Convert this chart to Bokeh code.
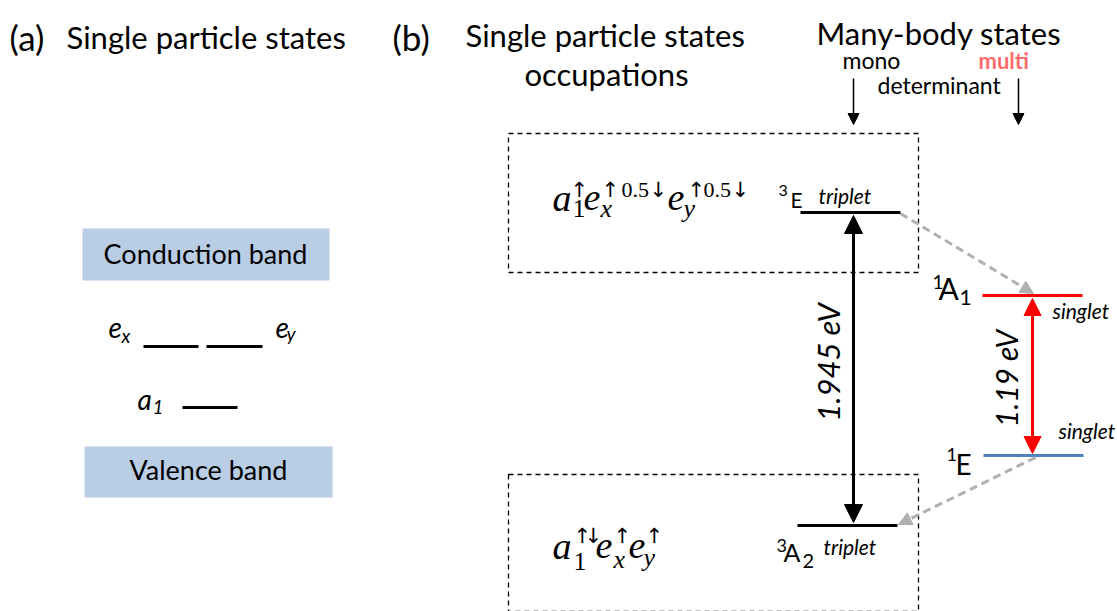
import math
from bokeh.plotting import figure
from bokeh.models import Range1d, Arrow, NormalHead
from bokeh.core.properties import value
from bokeh.embed import file_html
from bokeh.resources import INLINE

# ---------------- data ----------------
panel_titles = ["(a)", "(b)"]
section_titles = ["Single particle states", "Single particle states", "occupations", "Many-body states"]
band_names = ["Conduction band", "Valence band"]
orbital_letters = ["e", "e", "a"]
orbital_subs = ["x", "y", "1"]
state_mult = ["3", "3", "1", "1"]
state_sym = ["E", "A", "A", "E"]
state_sub = ["", "2", "1", ""]
spin_labels = ["triplet", "triplet", "singlet", "singlet"]
state_colors = ["black", "black", "#ff0000", "#4f81bd"]
transition_energies_eV = [1.945, 1.19]
transition_labels = [f"{e} eV" for e in transition_energies_eV]
determinant_labels = ["mono", "determinant", "multi"]

# ---------------- layout ----------------
W, H = 1117, 611
p = figure(width=W, height=H, x_range=Range1d(0, W), y_range=Range1d(H, 0),
           output_backend="svg", toolbar_location=None, min_border=0,
           x_axis_location=None, y_axis_location=None)
p.grid.visible = False
p.outline_line_color = None
p.background_fill_color = "white"

SANS = "Lato"
SERIF = "Liberation Serif"
SYM = "DejaVu Sans"
BASE_SHIFT = 0.33  # em, correction so that y is the visual baseline


def T(x, y, s, size, font=SANS, style="normal", color="black", align="left",
      baseline="alphabetic", angle=0.0):
    if baseline == "alphabetic":
        y = y - BASE_SHIFT * size
    p.text(x=[x], y=[y], text=[s], text_font=value(font), text_font_size=f"{size}px",
           text_font_style=style, text_color=color, text_align=align,
           text_baseline=baseline, angle=angle)


# titles
T(9, 48, panel_titles[0], 35)
T(66, 47, section_titles[0], 31)
T(392, 48, panel_titles[1], 35)
T(465, 45, section_titles[1], 31)
T(606, 84, section_titles[2], 31, align="center")
T(816, 43, section_titles[3], 31)
T(842, 67, determinant_labels[0], 23)
T(877, 92, determinant_labels[1], 23)
T(978, 67, determinant_labels[2], 22, style="bold", color="#ff6b6b")

# pointer arrows
for xa in (853, 1018):
    p.add_layout(Arrow(x_start=xa, y_start=78, x_end=xa, y_end=124, line_width=1.5,
                       end=NormalHead(size=11, fill_color="black", line_color="black")))

# ----- panel (a) -----
p.quad(left=[82, 84], right=[329, 332], top=[228, 446], bottom=[280, 497],
       fill_color="#b9cde5", line_color=None)
T(205, 262, band_names[0], 27, align="center")
T(208, 478, band_names[1], 27, align="center")
p.segment(x0=[143, 206, 182], y0=[346, 346, 407], x1=[198, 262, 237], y1=[346, 346, 407],
          line_width=3, line_color="black")
T(108, 336, orbital_letters[0], 28, style="italic")
T(121, 341, orbital_subs[0], 19, style="italic")
T(275, 336, orbital_letters[1], 28, style="italic")
T(286, 339, orbital_subs[1], 19, style="italic")
T(137, 408, orbital_letters[2], 28, style="italic")
T(152, 413, orbital_subs[2], 19, style="italic")

# ----- panel (b) -----
p.rect(x=[713, 713], y=[202.5, 542.5], width=[410, 410], height=[139, 137],
       fill_color=None, line_color="black", line_width=1.3, line_dash="5 4")


# occupation formulas
def formula(tokens):
    for x, y, s, kind in tokens:
        if kind == "main":
            T(x, y, s, 38, font=SERIF, style="italic")
        elif kind == "subi":
            T(x, y, s, 26, font=SERIF, style="italic")
        elif kind == "subn":
            T(x, y, s, 26, font=SERIF)
        elif kind == "num":
            T(x, y, s, 22, font=SERIF)
        else:
            T(x, y, s, 21, font=SYM)


formula([
    (552, 210, "a", "main"), (572, 217, "1", "subn"), (570, 196, "↑", "arr"),
    (583, 210, "e", "main"), (600, 217, "x", "subi"), (601, 196, "↑", "arr"),
    (621, 197, "0.5", "num"), (649, 196, "↓", "arr"),
    (667, 210, "e", "main"), (683, 217, "y", "subi"), (687, 196, "↑", "arr"),
    (703, 197, "0.5", "num"), (731, 196, "↓", "arr"),
])
formula([
    (552, 558, "a", "main"), (573, 570, "1", "subn"), (573, 542, "↑", "arr"), (584, 542, "↓", "arr"),
    (595, 558, "e", "main"), (613, 568, "x", "subi"), (613, 542, "↑", "arr"),
    (628, 558, "e", "main"), (643, 566, "y", "subi"), (645, 542, "↑", "arr"),
])

# energy levels
lev_x0 = [800, 797, 982, 983]
lev_x1 = [900, 897, 1082, 1083]
lev_y = [212, 525, 295, 455]
p.segment(x0=lev_x0, y0=lev_y, x1=lev_x1, y1=lev_y, line_width=3, line_color=state_colors)

# level labels
# 3E
T(778, 195, state_mult[0], 16)
T(790, 206, state_sym[0], 21)
T(818, 202, spin_labels[0], 21, style="italic")
# 3A2
T(776, 551, state_mult[1], 18)
T(783, 560, state_sym[1], 25)
T(802, 567, state_sub[1], 20)
T(823, 553, spin_labels[1], 21, style="italic")
# 1A1
T(932, 288, state_mult[2], 19)
T(938, 297, state_sym[2], 30)
T(959, 304, state_sub[2], 21)
T(1052, 317, spin_labels[2], 21, style="italic")
# 1E
T(946, 460, state_mult[3], 18)
T(955, 473, state_sym[3], 28)
T(1058, 437, spin_labels[3], 21, style="italic")

# transitions
p.add_layout(Arrow(x_start=853, y_start=522, x_end=853, y_end=215, line_width=3, line_color="black",
                   start=NormalHead(size=18, fill_color="black", line_color="black"),
                   end=NormalHead(size=18, fill_color="black", line_color="black")))
p.add_layout(Arrow(x_start=1032, y_start=453, x_end=1032, y_end=298, line_width=3, line_color="#ff0000",
                   start=NormalHead(size=17, fill_color="#ff0000", line_color="#ff0000"),
                   end=NormalHead(size=17, fill_color="#ff0000", line_color="#ff0000")))
T(827, 362, transition_labels[0], 31, style="italic", align="center", baseline="middle",
  angle=math.pi / 2)
T(1005, 378, transition_labels[1], 30, style="italic", align="center", baseline="middle",
  angle=math.pi / 2)

# intersystem crossing (dashed grey)
GREY = "#b0b0b0"
p.add_layout(Arrow(x_start=900, y_start=213, x_end=1033, y_end=293, line_width=3, line_color=GREY,
                   line_dash="8 5", end=NormalHead(size=13, fill_color=GREY, line_color=GREY)))
p.add_layout(Arrow(x_start=1035, y_start=457, x_end=898, y_end=524, line_width=3, line_color=GREY,
                   line_dash="8 5", end=NormalHead(size=13, fill_color=GREY, line_color=GREY)))

open("out.html", "w").write(file_html(p, INLINE))
